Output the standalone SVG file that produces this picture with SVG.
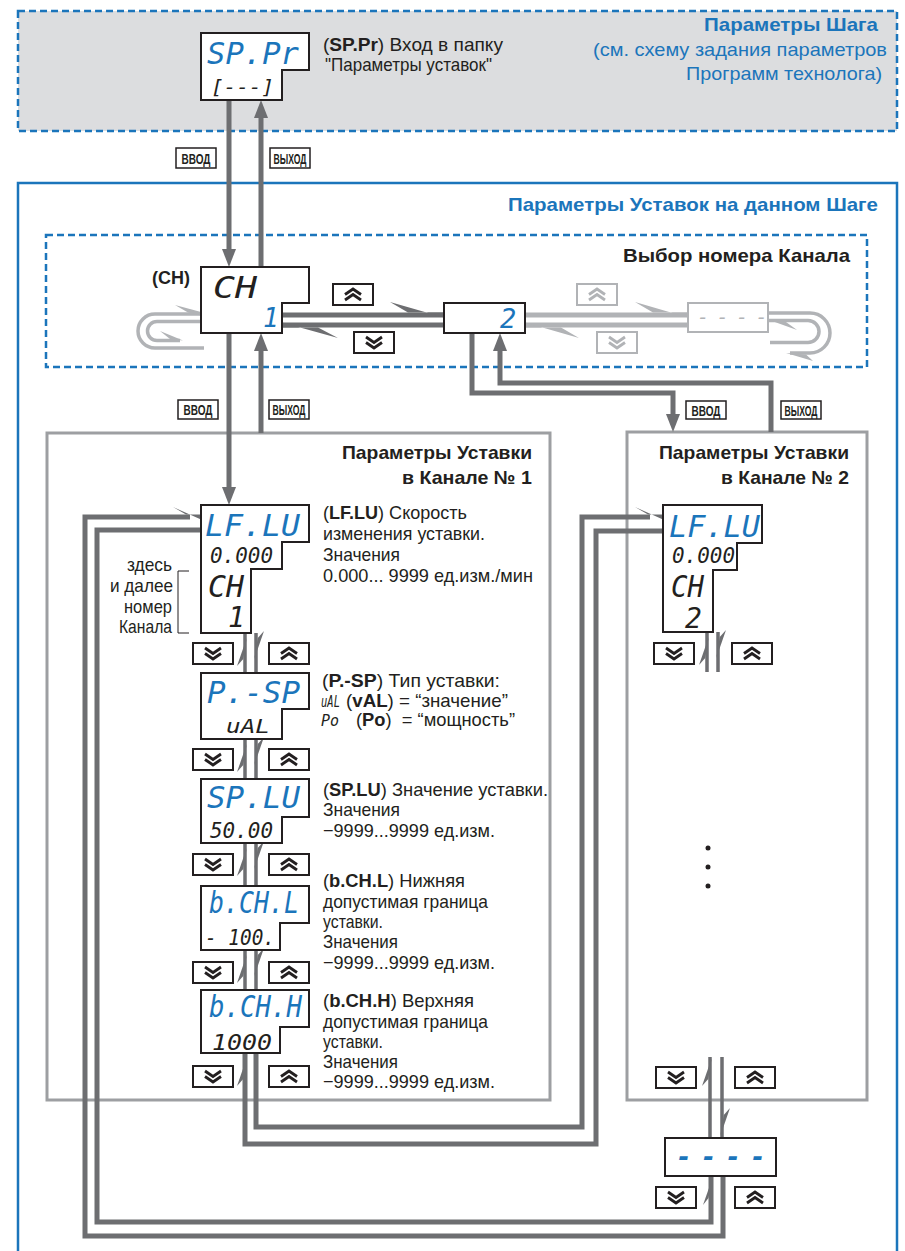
<svg xmlns="http://www.w3.org/2000/svg" width="905" height="1251" viewBox="0 0 905 1251">
<style>
.t{font-family:"Liberation Sans",Arial,sans-serif;font-size:19px;fill:#231f20}
.b{font-weight:bold}
.bl{fill:#1b75bb}
.seg{font-family:"DejaVu Sans Mono",monospace;font-style:italic}
.disp{fill:#fff;stroke:#231f20;stroke-width:2}
.c{stroke:#6d6e71;fill:none}
.cl{stroke:#b1b3b6;fill:none}
.ah{fill:#6d6e71}
.ahl{fill:#b1b3b6}
.btn{fill:#fff;stroke:#231f20;stroke-width:2}
.chev{fill:none;stroke:#231f20;stroke-width:2.8}
.btnl{fill:#fff;stroke:#b1b3b6;stroke-width:2}
.chevl{fill:none;stroke:#b1b3b6;stroke-width:2.8}
.lab{fill:#fff;stroke:#231f20;stroke-width:1.5}
.labt{font-family:"Liberation Sans",Arial,sans-serif;font-size:15px;font-weight:bold;fill:#231f20;text-anchor:middle}
.cont{fill:none;stroke:#9d9fa2;stroke-width:3}
.dash{stroke:#1b75bb;stroke-width:2.5;stroke-dasharray:7 4}
</style>
<defs>
<g id="bd"><rect x="0" y="0" width="40" height="21" class="btn"/><path d="M12,5 L20,10.5 L28,5 M12,10.5 L20,16 L28,10.5" class="chev"/></g>
<g id="bu"><rect x="0" y="0" width="40" height="21" class="btn"/><path d="M12,10.5 L20,5 L28,10.5 M12,16 L20,10.5 L28,16" class="chev"/></g>
<g id="bdl"><rect x="0" y="0" width="40" height="21" class="btnl"/><path d="M12,5 L20,10.5 L28,5 M12,10.5 L20,16 L28,10.5" class="chevl"/></g>
<g id="bul"><rect x="0" y="0" width="40" height="21" class="btnl"/><path d="M12,10.5 L20,5 L28,10.5 M12,16 L20,10.5 L28,16" class="chevl"/></g>
</defs>
<rect x="0" y="0" width="905" height="1251" fill="#fff"/>

<g id="containers">
<rect x="18" y="11" width="879" height="120" fill="#dcdddf" class="dash"/>
<rect x="18" y="183" width="879" height="1090" fill="none" stroke="#1b75bb" stroke-width="2.5"/>
<rect x="46" y="235" width="821" height="132" fill="none" class="dash"/>
<rect x="47" y="433" width="503" height="667" class="cont"/>
<rect x="627" y="432" width="240" height="668" class="cont"/>
</g>

<g id="connectors">
<path class="c" stroke-width="5" d="M229,100 V252"/>
<polygon class="ah" points="222,249 236,249 229,267"/>
<path class="c" stroke-width="5" d="M261,267 V116"/>
<polygon class="ah" points="254,118 268,118 261,100"/>
<path class="c" stroke-width="5" d="M229,333 V490"/>
<polygon class="ah" points="222,487 236,487 229,505"/>
<path class="c" stroke-width="5" d="M261,433 V349"/>
<polygon class="ah" points="254,351 268,351 261,333"/>
<path class="c" stroke-width="5" d="M472,333 V393 H673 V417"/>
<polygon class="ah" points="666,414 680,414 673,432"/>
<path class="c" stroke-width="5" d="M771,432 V383 H500 V349"/>
<polygon class="ah" points="493,351 507,351 500,333"/>
<path class="c" stroke-width="5" d="M282,315 H444"/>
<polygon class="ah" points="390,302 444,317.5 444,312.5 408,312.5"/>
<path class="c" stroke-width="5" d="M444,325 H282"/>
<polygon class="ah" points="338,338 282,322.5 282,327.5 318,327.5"/>
<path class="cl" stroke-width="5" d="M525,315 H688"/>
<polygon class="ahl" points="635,302 688,317.5 688,312.5 653,312.5"/>
<path class="cl" stroke-width="5" d="M688,325 H525"/>
<polygon class="ahl" points="579,338 525,322.5 525,327.5 561,327.5"/>
<path class="cl" stroke-width="3.5" d="M201,314 H155 A17,17 0 0 0 155,348 H204"/>
<polygon class="ahl" points="175,305 201,312 201,315.5 188,312.5"/>
<path class="cl" stroke-width="3.5" d="M201,321.5 H157 A9.5,9.5 0 0 0 157,340.5 H180"/>
<polygon class="ahl" points="160,331 183,340.5 170,339"/>
<path class="cl" stroke-width="3.5" d="M768,313 H810 A20,20 0 0 1 810,353 H790"/>
<polygon class="ahl" points="786,353 813,361 806,354.5"/>
<path class="cl" stroke-width="3.5" d="M768,320.5 H808 A11,11 0 0 1 808,342.5 H770"/>
<polygon class="ahl" points="772,321 797,330 786,322"/>
<g class="c" stroke-width="3.5">
<path d="M245,633 V673 M256,633 V673"/>
<path d="M245,739 V779 M256,739 V779"/>
<path d="M245,843 V886 M256,843 V886"/>
<path d="M245,950 V990 M256,950 V990"/>
<path d="M707,632 V672 M718,632 V672"/>
<path d="M710,1057 V1138 M722,1057 V1138"/>
</g>
<g class="ah">
<polygon points="246.75,638 237,666 243.25,659"/>
<polygon points="254.25,659 264,631 257.75,638"/>
<polygon points="246.75,744 237,772 243.25,765"/>
<polygon points="254.25,765 264,737 257.75,744"/>
<polygon points="246.75,848 237,876 243.25,869"/>
<polygon points="254.25,869 264,841 257.75,848"/>
<polygon points="246.75,955 237,983 243.25,976"/>
<polygon points="254.25,976 264,948 257.75,955"/>
<polygon points="246.75,1058 237,1086 243.25,1079"/>
<polygon points="708.75,637 699,665 705.25,658"/>
<polygon points="716.25,658 726,630 719.75,637"/>
<polygon points="711.75,1058 702,1086 708.25,1079"/>
<polygon points="720.25,1136 730,1108 723.75,1115"/>
<polygon points="712.5,1178 703,1205 708.5,1198"/>
</g>
<path class="c" stroke-width="5" d="M256,1053 V1127 H582 V517 H650"/>
<polygon class="ah" points="635,507 663,519.5 663,514.5 648,514.5"/>
<path class="c" stroke-width="5" d="M663,531 H596 V1144 H245 V1053"/>
<path class="c" stroke-width="5" d="M723,1176 V1236 H85 V517 H190"/>
<polygon class="ah" points="173,507 201,519.5 201,514.5 186,514.5"/>
<path class="c" stroke-width="5" d="M201,530 H97 V1222 H711 V1176"/>
</g>

<g id="labels">
<rect x="176" y="148" width="40" height="20" class="lab"/><text x="196" y="163.5" class="labt" textLength="29" lengthAdjust="spacingAndGlyphs">ВВОД</text>
<rect x="270" y="148" width="40" height="20" class="lab"/><text x="290" y="163.5" class="labt" textLength="33" lengthAdjust="spacingAndGlyphs">ВЫХОД</text>
<rect x="178" y="400" width="40" height="19" class="lab"/><text x="198" y="415" class="labt" textLength="29" lengthAdjust="spacingAndGlyphs">ВВОД</text>
<rect x="269" y="400" width="40" height="19" class="lab"/><text x="289" y="415" class="labt" textLength="33" lengthAdjust="spacingAndGlyphs">ВЫХОД</text>
<rect x="686" y="401" width="40" height="18" class="lab"/><text x="706" y="415.5" class="labt" textLength="29" lengthAdjust="spacingAndGlyphs">ВВОД</text>
<rect x="781" y="401" width="40" height="18" class="lab"/><text x="801" y="415.5" class="labt" textLength="33" lengthAdjust="spacingAndGlyphs">ВЫХОД</text>
</g>

<g id="buttons">
<use href="#bu" x="333" y="284"/>
<use href="#bd" x="354" y="332"/>
<use href="#bul" x="577" y="284"/>
<use href="#bdl" x="597" y="332"/>
<use href="#bd" x="193" y="643"/><use href="#bu" x="269" y="643"/>
<use href="#bd" x="193" y="749"/><use href="#bu" x="269" y="749"/>
<use href="#bd" x="193" y="854"/><use href="#bu" x="269" y="854"/>
<use href="#bd" x="193" y="962"/><use href="#bu" x="269" y="962"/>
<use href="#bd" x="193" y="1066"/><use href="#bu" x="269" y="1066"/>
<use href="#bd" x="654" y="643"/><use href="#bu" x="732" y="643"/>
<use href="#bd" x="656" y="1067"/><use href="#bu" x="735" y="1067"/>
<use href="#bd" x="656" y="1187"/><use href="#bu" x="735" y="1187"/>
</g>

<g id="n-sppr">
<path class="disp" d="M201,33 H309 V70 H282 V100 H201 Z"/>
<text class="seg bl" x="207" y="64" font-size="31" textLength="92" lengthAdjust="spacingAndGlyphs">SP.Pr</text>
<text class="seg" x="211" y="94" font-size="20" fill="#231f20" textLength="63" lengthAdjust="spacingAndGlyphs">[---]</text>
<text class="t" x="323" y="51" textLength="180" lengthAdjust="spacingAndGlyphs">(<tspan class="b">SP.Pr</tspan>) Вход в папку</text>
<text class="t" x="325" y="71" textLength="167" lengthAdjust="spacingAndGlyphs">"Параметры уставок"</text>
</g>

<g id="titles">
<text class="t b bl" x="878" y="31" font-size="20" text-anchor="end" textLength="174" lengthAdjust="spacingAndGlyphs">Параметры Шага</text>
<text class="t bl" x="887" y="56" text-anchor="end" textLength="294" lengthAdjust="spacingAndGlyphs">(см. схему задания параметров</text>
<text class="t bl" x="882" y="80" text-anchor="end" textLength="196" lengthAdjust="spacingAndGlyphs">Программ технолога)</text>
<text class="t b bl" x="878" y="211" font-size="20" text-anchor="end" textLength="370" lengthAdjust="spacingAndGlyphs">Параметры Уставок на данном Шаге</text>
<text class="t b" x="850" y="262" font-size="20" text-anchor="end" textLength="227" lengthAdjust="spacingAndGlyphs">Выбор номера Канала</text>
<text class="t b" x="532" y="459" font-size="20" text-anchor="end" textLength="190" lengthAdjust="spacingAndGlyphs">Параметры Уставки</text>
<text class="t b" x="532" y="484" font-size="20" text-anchor="end" textLength="130" lengthAdjust="spacingAndGlyphs">в Канале № 1</text>
<text class="t b" x="849" y="459" font-size="20" text-anchor="end" textLength="190" lengthAdjust="spacingAndGlyphs">Параметры Уставки</text>
<text class="t b" x="849" y="484" font-size="20" text-anchor="end" textLength="128" lengthAdjust="spacingAndGlyphs">в Канале № 2</text>
</g>

<g id="n-ch">
<path class="disp" d="M201,267 H309 V303 H282 V333 H201 Z"/>
<text class="seg" x="213" y="298" font-size="31" fill="#231f20" textLength="44" lengthAdjust="spacingAndGlyphs">CH</text>
<text class="seg bl" x="263" y="327" font-size="26">1</text>
<text class="t b" x="152" y="284" font-size="20" textLength="38" lengthAdjust="spacingAndGlyphs">(CH)</text>
</g>

<g id="n-ch2sel">
<rect class="disp" x="444" y="303" width="81" height="30"/>
<text class="seg bl" x="500" y="328" font-size="27">2</text>
</g>

<g id="n-chlast-sel">
<rect x="688" y="303" width="80" height="29" fill="#fff" stroke="#b1b3b6" stroke-width="2"/>
<text class="seg" x="697" y="324" font-size="20" fill="#b1b3b6" letter-spacing="7.5">----</text>
</g>

<g id="n-lflu1">
<path class="disp" d="M201,505 H309 V542 H282 V569 H251 V633 H201 Z"/>
<text class="seg bl" x="205" y="536" font-size="31" textLength="95" lengthAdjust="spacingAndGlyphs">LF.LU</text>
<text class="seg" x="210" y="563" font-size="22" fill="#231f20" textLength="63" lengthAdjust="spacingAndGlyphs">0.000</text>
<text class="seg" x="208" y="597" font-size="30" fill="#231f20" textLength="36" lengthAdjust="spacingAndGlyphs">CH</text>
<text class="seg" x="228" y="627" font-size="28" fill="#231f20">1</text>
<text class="t" x="323" y="519" textLength="144" lengthAdjust="spacingAndGlyphs">(<tspan class="b">LF.LU</tspan>) Скорость</text>
<text class="t" x="323" y="540" textLength="162" lengthAdjust="spacingAndGlyphs">изменения уставки.</text>
<text class="t" x="323" y="561" textLength="77" lengthAdjust="spacingAndGlyphs">Значения</text>
<text class="t" x="323" y="582" textLength="210" lengthAdjust="spacingAndGlyphs">0.000... 9999 ед.изм./мин</text>
<text class="t" x="172" y="571" text-anchor="end" textLength="45" lengthAdjust="spacingAndGlyphs">здесь</text>
<text class="t" x="173" y="592" text-anchor="end" textLength="63" lengthAdjust="spacingAndGlyphs">и далее</text>
<text class="t" x="172" y="613" text-anchor="end" textLength="48" lengthAdjust="spacingAndGlyphs">номер</text>
<text class="t" x="172" y="633" text-anchor="end" textLength="53" lengthAdjust="spacingAndGlyphs">Канала</text>
<path d="M189,571 H178 V633 H189" fill="none" stroke="#231f20" stroke-width="1"/>
</g>

<g id="n-psp">
<path class="disp" d="M201,673 H309 V709 H282 V739 H201 Z"/>
<text class="seg bl" x="207" y="703" font-size="31" textLength="93" lengthAdjust="spacingAndGlyphs">P.-SP</text>
<text class="seg" x="226" y="733" font-size="20" fill="#231f20" textLength="44" lengthAdjust="spacingAndGlyphs">uAL</text>
<text class="t" x="322" y="687" font-size="18" textLength="178" lengthAdjust="spacingAndGlyphs">(<tspan class="b">P.-SP</tspan>) Тип уставки:</text>
<text class="seg" x="321" y="706.5" font-size="15" fill="#231f20" textLength="19" lengthAdjust="spacingAndGlyphs">uAL</text>
<text class="t" x="346" y="706.5" font-size="17" textLength="162" lengthAdjust="spacingAndGlyphs">(<tspan class="b">vAL</tspan>) = “значение”</text>
<text class="seg" x="321" y="725.5" font-size="15" fill="#231f20" textLength="18" lengthAdjust="spacingAndGlyphs">Po</text>
<text class="t" x="356" y="725.5" font-size="17" textLength="159" lengthAdjust="spacingAndGlyphs">(<tspan class="b">Po</tspan>)&#160; = “мощность”</text>
</g>

<g id="n-splu">
<path class="disp" d="M201,779 H309 V817 H282 V843 H201 Z"/>
<text class="seg bl" x="207" y="808" font-size="31" textLength="93" lengthAdjust="spacingAndGlyphs">SP.LU</text>
<text class="seg" x="210" y="838" font-size="22" fill="#231f20" textLength="63" lengthAdjust="spacingAndGlyphs">50.00</text>
<text class="t" x="323" y="796" textLength="225" lengthAdjust="spacingAndGlyphs">(<tspan class="b">SP.LU</tspan>) Значение уставки.</text>
<text class="t" x="323" y="816" textLength="77" lengthAdjust="spacingAndGlyphs">Значения</text>
<text class="t" x="323" y="837" textLength="172" lengthAdjust="spacingAndGlyphs">−9999...9999 ед.изм.</text>
</g>

<g id="n-bchl">
<path class="disp" d="M201,886 H309 V923 H280 V950 H201 Z"/>
<text class="seg bl" x="209" y="913" font-size="31" textLength="90" lengthAdjust="spacingAndGlyphs">b.CH.L</text>
<text class="seg" x="205" y="945" font-size="22" fill="#231f20" textLength="70" lengthAdjust="spacingAndGlyphs">- 100.</text>
<text class="t" x="323" y="887" textLength="142" lengthAdjust="spacingAndGlyphs">(<tspan class="b">b.CH.L</tspan>) Нижняя</text>
<text class="t" x="323" y="908" textLength="165" lengthAdjust="spacingAndGlyphs">допустимая граница</text>
<text class="t" x="323" y="928" textLength="60" lengthAdjust="spacingAndGlyphs">уставки.</text>
<text class="t" x="323" y="948" textLength="75" lengthAdjust="spacingAndGlyphs">Значения</text>
<text class="t" x="323" y="969" textLength="172" lengthAdjust="spacingAndGlyphs">−9999...9999 ед.изм.</text>
</g>

<g id="n-bchh">
<path class="disp" d="M201,990 H309 V1027 H280 V1053 H201 Z"/>
<text class="seg bl" x="209" y="1017" font-size="31" textLength="93" lengthAdjust="spacingAndGlyphs">b.CH.H</text>
<text class="seg" x="212" y="1050" font-size="22" fill="#231f20" textLength="60" lengthAdjust="spacingAndGlyphs">1000</text>
<text class="t" x="323" y="1007" textLength="151" lengthAdjust="spacingAndGlyphs">(<tspan class="b">b.CH.H</tspan>) Верхняя</text>
<text class="t" x="323" y="1028" textLength="165" lengthAdjust="spacingAndGlyphs">допустимая граница</text>
<text class="t" x="323" y="1048" textLength="60" lengthAdjust="spacingAndGlyphs">уставки.</text>
<text class="t" x="323" y="1068" textLength="75" lengthAdjust="spacingAndGlyphs">Значения</text>
<text class="t" x="323" y="1088" textLength="172" lengthAdjust="spacingAndGlyphs">−9999...9999 ед.изм.</text>
</g>

<g id="n-lflu2">
<path class="disp" d="M663,505 H762 V543 H737 V570 H713 V632 H663 Z"/>
<text class="seg bl" x="669" y="537" font-size="31" textLength="91" lengthAdjust="spacingAndGlyphs">LF.LU</text>
<text class="seg" x="672" y="563" font-size="22" fill="#231f20" textLength="63" lengthAdjust="spacingAndGlyphs">0.000</text>
<text class="seg" x="671" y="597" font-size="30" fill="#231f20" textLength="33" lengthAdjust="spacingAndGlyphs">CH</text>
<text class="seg" x="685" y="628" font-size="28" fill="#231f20">2</text>
</g>

<g id="n-dots" fill="#231f20">
<circle cx="708" cy="848" r="2.5"/><circle cx="708" cy="867" r="2.5"/><circle cx="708" cy="886" r="2.5"/>
</g>

<g id="n-last">
<rect class="disp" x="665" y="1138" width="111" height="38"/>
<text class="seg b bl" x="676" y="1166" font-size="26" letter-spacing="9">----</text>
</g>
</svg>
